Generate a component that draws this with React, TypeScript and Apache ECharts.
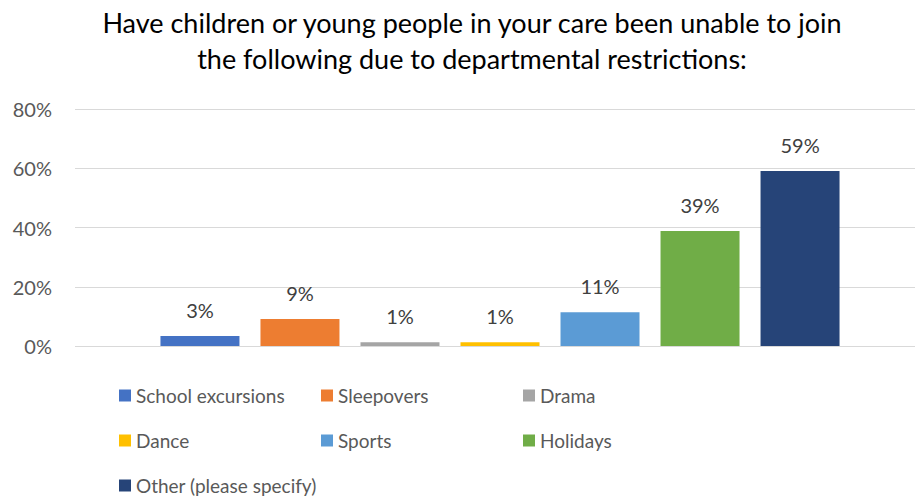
import React, { useEffect, useRef } from "react";
import * as echarts from "echarts";

const seriesNames = [
  "School excursions",
  "Sleepovers",
  "Drama",
  "Dance",
  "Sports",
  "Holidays",
  "Other (please specify)",
];
const seriesValues = [3.4, 9.1, 1.3, 1.3, 11.4, 38.8, 59.1];
const seriesColors = ["#4472C4", "#ED7D31", "#A5A5A5", "#FFC000", "#5B9BD5", "#70AD47", "#264478"];
const yTicks = [0, 20, 40, 60, 80];
const titleLines = [
  "Have children or young people in your care been unable to join",
  "the following due to departmental restrictions:",
];

const FONT = "Lato";

export default function App() {
  const ref = useRef<HTMLDivElement>(null);
  useEffect(() => {
    const chart = echarts.init(ref.current!, null, { renderer: "svg" });
    const legendPos = [
      [119, 386], [321, 386], [523, 386],
      [119, 431], [321, 431], [523, 431],
      [119, 476],
    ];
    chart.setOption({
      animation: false,
      textStyle: { fontFamily: FONT },
      graphic: titleLines.map((t, i) => ({
        type: "text",
        x: 472,
        y: 22 + i * 36,
        style: {
          text: t,
          fontFamily: FONT,
          fontSize: 27,
          fill: "#000000",
          textAlign: "center",
          textVerticalAlign: "middle",
        },
      })),
      legend: seriesNames.map((n, i) => ({
        data: [n],
        left: legendPos[i][0],
        top: legendPos[i][1],
        itemWidth: 12,
        itemHeight: 12,
        itemGap: 5,
        icon: "rect",
        textStyle: { fontFamily: FONT, fontSize: 19, color: "#595959" },
        padding: 0,
      })),
      grid: { left: 75, right: 0, top: 109, bottom: 153, containLabel: false },
      xAxis: {
        type: "category",
        data: [""],
        axisLine: { show: false },
        axisTick: { show: false },
        axisLabel: { show: false },
      },
      yAxis: {
        type: "value",
        min: yTicks[0],
        max: yTicks[yTicks.length - 1],
        interval: 20,
        axisLine: { show: false },
        axisTick: { show: false },
        splitLine: { lineStyle: { color: "#D9D9D9", width: 1 } },
        axisLabel: {
          formatter: (v: number) => `${v}%`,
          fontFamily: FONT,
          fontSize: 20,
          color: "#595959",
          margin: 23,
        },
      },
      series: seriesNames.map((n, i) => ({
        name: n,
        type: "bar",
        data: [seriesValues[i]],
        barWidth: 79,
        barGap: "26.6%",
        itemStyle: { color: seriesColors[i] },
        label: {
          show: true,
          position: "top",
          distance: 16,
          formatter: (p: any) => `${Math.round(p.value)}%`,
          fontFamily: FONT,
          fontSize: 20,
          color: "#404040",
        },
      })),
    });
    return () => chart.dispose();
  }, []);
  return (
    <div
      ref={ref}
      style={{ position: "fixed", left: 0, top: 0, width: 925, height: 499, background: "#fff" }}
    />
  );
}
